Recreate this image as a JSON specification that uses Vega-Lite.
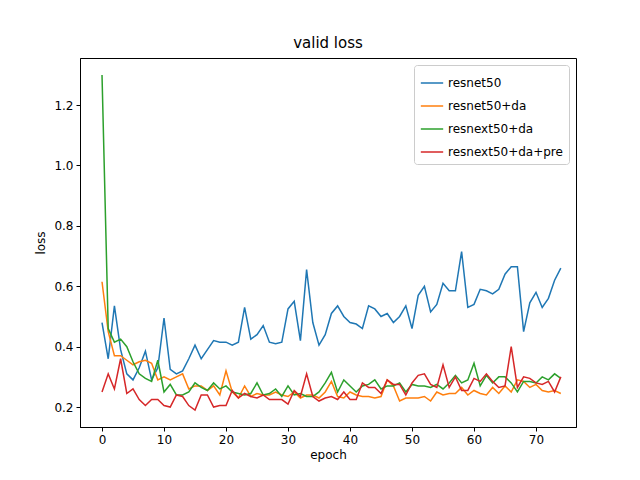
{
  "$schema": "https://vega.github.io/schema/vega-lite/v6.json",
  "width": 496,
  "height": 369,
  "autosize": {"type": "none"},
  "padding": {"left": 80, "top": 58, "right": 64, "bottom": 53},
  "background": "white",
  "title": {"text": "valid loss", "fontSize": 15, "font": "DejaVu Sans", "fontWeight": "normal", "offset": 7},
  "data": {
    "values": [
      {"epoch":0,"resnet50":0.48,"resnet50+da":0.615,"resnext50+da":1.3,"resnext50+da+pre":0.25},
      {"epoch":1,"resnet50":0.36,"resnet50+da":0.45,"resnext50+da":0.46,"resnext50+da+pre":0.31},
      {"epoch":2,"resnet50":0.535,"resnet50+da":0.37,"resnext50+da":0.415,"resnext50+da+pre":0.26},
      {"epoch":3,"resnet50":0.39,"resnet50+da":0.37,"resnext50+da":0.425,"resnext50+da+pre":0.36},
      {"epoch":4,"resnet50":0.31,"resnet50+da":0.355,"resnext50+da":0.4,"resnext50+da+pre":0.245},
      {"epoch":5,"resnet50":0.29,"resnet50+da":0.34,"resnext50+da":0.35,"resnext50+da+pre":0.26},
      {"epoch":6,"resnet50":0.33,"resnet50+da":0.35,"resnext50+da":0.31,"resnext50+da+pre":0.225},
      {"epoch":7,"resnet50":0.385,"resnet50+da":0.355,"resnext50+da":0.295,"resnext50+da+pre":0.205},
      {"epoch":8,"resnet50":0.29,"resnet50+da":0.345,"resnext50+da":0.285,"resnext50+da+pre":0.225},
      {"epoch":9,"resnet50":0.33,"resnet50+da":0.29,"resnext50+da":0.355,"resnext50+da+pre":0.225},
      {"epoch":10,"resnet50":0.495,"resnet50+da":0.3,"resnext50+da":0.25,"resnext50+da+pre":0.205},
      {"epoch":11,"resnet50":0.325,"resnet50+da":0.29,"resnext50+da":0.275,"resnext50+da+pre":0.2},
      {"epoch":12,"resnet50":0.31,"resnet50+da":0.3,"resnext50+da":0.24,"resnext50+da+pre":0.24},
      {"epoch":13,"resnet50":0.32,"resnet50+da":0.31,"resnext50+da":0.24,"resnext50+da+pre":0.235},
      {"epoch":14,"resnet50":0.36,"resnet50+da":0.26,"resnext50+da":0.25,"resnext50+da+pre":0.205},
      {"epoch":15,"resnet50":0.405,"resnet50+da":0.27,"resnext50+da":0.28,"resnext50+da+pre":0.19},
      {"epoch":16,"resnet50":0.36,"resnet50+da":0.27,"resnext50+da":0.265,"resnext50+da+pre":0.24},
      {"epoch":17,"resnet50":0.39,"resnet50+da":0.255,"resnext50+da":0.255,"resnext50+da+pre":0.24},
      {"epoch":18,"resnet50":0.42,"resnet50+da":0.27,"resnext50+da":0.28,"resnext50+da+pre":0.2},
      {"epoch":19,"resnet50":0.415,"resnet50+da":0.24,"resnext50+da":0.26,"resnext50+da+pre":0.205},
      {"epoch":20,"resnet50":0.415,"resnet50+da":0.32,"resnext50+da":0.27,"resnext50+da+pre":0.205},
      {"epoch":21,"resnet50":0.405,"resnet50+da":0.25,"resnext50+da":0.25,"resnext50+da+pre":0.255},
      {"epoch":22,"resnet50":0.415,"resnet50+da":0.23,"resnext50+da":0.245,"resnext50+da+pre":0.23},
      {"epoch":23,"resnet50":0.53,"resnet50+da":0.27,"resnext50+da":0.24,"resnext50+da+pre":0.245},
      {"epoch":24,"resnet50":0.425,"resnet50+da":0.235,"resnext50+da":0.245,"resnext50+da+pre":0.235},
      {"epoch":25,"resnet50":0.44,"resnet50+da":0.245,"resnext50+da":0.28,"resnext50+da+pre":0.23},
      {"epoch":26,"resnet50":0.47,"resnet50+da":0.24,"resnext50+da":0.24,"resnext50+da+pre":0.24},
      {"epoch":27,"resnet50":0.415,"resnet50+da":0.24,"resnext50+da":0.245,"resnext50+da+pre":0.225},
      {"epoch":28,"resnet50":0.41,"resnet50+da":0.25,"resnext50+da":0.26,"resnext50+da+pre":0.225},
      {"epoch":29,"resnet50":0.415,"resnet50+da":0.24,"resnext50+da":0.235,"resnext50+da+pre":0.225},
      {"epoch":30,"resnet50":0.525,"resnet50+da":0.235,"resnext50+da":0.27,"resnext50+da+pre":0.21},
      {"epoch":31,"resnet50":0.55,"resnet50+da":0.25,"resnext50+da":0.24,"resnext50+da+pre":0.255},
      {"epoch":32,"resnet50":0.42,"resnet50+da":0.23,"resnext50+da":0.245,"resnext50+da+pre":0.235},
      {"epoch":33,"resnet50":0.655,"resnet50+da":0.24,"resnext50+da":0.235,"resnext50+da+pre":0.31},
      {"epoch":34,"resnet50":0.48,"resnet50+da":0.24,"resnext50+da":0.235,"resnext50+da+pre":0.235},
      {"epoch":35,"resnet50":0.405,"resnet50+da":0.23,"resnext50+da":0.25,"resnext50+da+pre":0.22},
      {"epoch":36,"resnet50":0.44,"resnet50+da":0.25,"resnext50+da":0.28,"resnext50+da+pre":0.23},
      {"epoch":37,"resnet50":0.51,"resnet50+da":0.285,"resnext50+da":0.315,"resnext50+da+pre":0.235},
      {"epoch":38,"resnet50":0.535,"resnet50+da":0.235,"resnext50+da":0.25,"resnext50+da+pre":0.225},
      {"epoch":39,"resnet50":0.5,"resnet50+da":0.23,"resnext50+da":0.29,"resnext50+da+pre":0.25},
      {"epoch":40,"resnet50":0.48,"resnet50+da":0.25,"resnext50+da":0.27,"resnext50+da+pre":0.225},
      {"epoch":41,"resnet50":0.475,"resnet50+da":0.24,"resnext50+da":0.25,"resnext50+da+pre":0.225},
      {"epoch":42,"resnet50":0.46,"resnet50+da":0.235,"resnext50+da":0.27,"resnext50+da+pre":0.28},
      {"epoch":43,"resnet50":0.535,"resnet50+da":0.235,"resnext50+da":0.275,"resnext50+da+pre":0.265},
      {"epoch":44,"resnet50":0.525,"resnet50+da":0.23,"resnext50+da":0.29,"resnext50+da+pre":0.265},
      {"epoch":45,"resnet50":0.5,"resnet50+da":0.235,"resnext50+da":0.26,"resnext50+da+pre":0.245},
      {"epoch":46,"resnet50":0.51,"resnet50+da":0.29,"resnext50+da":0.27,"resnext50+da+pre":0.29},
      {"epoch":47,"resnet50":0.48,"resnet50+da":0.27,"resnext50+da":0.27,"resnext50+da+pre":0.275},
      {"epoch":48,"resnet50":0.5,"resnet50+da":0.22,"resnext50+da":0.28,"resnext50+da+pre":0.275},
      {"epoch":49,"resnet50":0.535,"resnet50+da":0.23,"resnext50+da":0.25,"resnext50+da+pre":0.24},
      {"epoch":50,"resnet50":0.46,"resnet50+da":0.23,"resnext50+da":0.275,"resnext50+da+pre":0.28},
      {"epoch":51,"resnet50":0.57,"resnet50+da":0.23,"resnext50+da":0.27,"resnext50+da+pre":0.305},
      {"epoch":52,"resnet50":0.6,"resnet50+da":0.235,"resnext50+da":0.27,"resnext50+da+pre":0.31},
      {"epoch":53,"resnet50":0.515,"resnet50+da":0.22,"resnext50+da":0.265,"resnext50+da+pre":0.275},
      {"epoch":54,"resnet50":0.54,"resnet50+da":0.25,"resnext50+da":0.275,"resnext50+da+pre":0.265},
      {"epoch":55,"resnet50":0.61,"resnet50+da":0.24,"resnext50+da":0.26,"resnext50+da+pre":0.34},
      {"epoch":56,"resnet50":0.585,"resnet50+da":0.245,"resnext50+da":0.28,"resnext50+da+pre":0.265},
      {"epoch":57,"resnet50":0.585,"resnet50+da":0.245,"resnext50+da":0.305,"resnext50+da+pre":0.3},
      {"epoch":58,"resnet50":0.715,"resnet50+da":0.265,"resnext50+da":0.28,"resnext50+da+pre":0.255},
      {"epoch":59,"resnet50":0.53,"resnet50+da":0.24,"resnext50+da":0.29,"resnext50+da+pre":0.255},
      {"epoch":60,"resnet50":0.54,"resnet50+da":0.255,"resnext50+da":0.345,"resnext50+da+pre":0.295},
      {"epoch":61,"resnet50":0.59,"resnet50+da":0.245,"resnext50+da":0.27,"resnext50+da+pre":0.285},
      {"epoch":62,"resnet50":0.585,"resnet50+da":0.24,"resnext50+da":0.305,"resnext50+da+pre":0.31},
      {"epoch":63,"resnet50":0.575,"resnet50+da":0.265,"resnext50+da":0.28,"resnext50+da+pre":0.285},
      {"epoch":64,"resnet50":0.59,"resnet50+da":0.245,"resnext50+da":0.3,"resnext50+da+pre":0.265},
      {"epoch":65,"resnet50":0.64,"resnet50+da":0.27,"resnext50+da":0.3,"resnext50+da+pre":0.27},
      {"epoch":66,"resnet50":0.665,"resnet50+da":0.25,"resnext50+da":0.28,"resnext50+da+pre":0.4},
      {"epoch":67,"resnet50":0.665,"resnet50+da":0.29,"resnext50+da":0.25,"resnext50+da+pre":0.265},
      {"epoch":68,"resnet50":0.45,"resnet50+da":0.285,"resnext50+da":0.285,"resnext50+da+pre":0.3},
      {"epoch":69,"resnet50":0.545,"resnet50+da":0.265,"resnext50+da":0.285,"resnext50+da+pre":0.295},
      {"epoch":70,"resnet50":0.58,"resnet50+da":0.275,"resnext50+da":0.28,"resnext50+da+pre":0.28},
      {"epoch":71,"resnet50":0.53,"resnet50+da":0.255,"resnext50+da":0.3,"resnext50+da+pre":0.275},
      {"epoch":72,"resnet50":0.56,"resnet50+da":0.25,"resnext50+da":0.29,"resnext50+da+pre":0.285},
      {"epoch":73,"resnet50":0.62,"resnet50+da":0.255,"resnext50+da":0.31,"resnext50+da+pre":0.25},
      {"epoch":74,"resnet50":0.66,"resnet50+da":0.245,"resnext50+da":0.295,"resnext50+da+pre":0.3}
    ]
  },
  "transform": [
    {"fold": ["resnet50", "resnet50+da", "resnext50+da", "resnext50+da+pre"], "as": ["model", "loss"]}
  ],
  "mark": {"type": "line", "strokeWidth": 1.5, "clip": true},
  "encoding": {
    "x": {
      "field": "epoch", "type": "quantitative",
      "scale": {"domain": [-3.55, 76.45], "nice": false, "zero": false},
      "axis": {"values": [0, 10, 20, 30, 40, 50, 60, 70], "title": "epoch", "grid": false, "domainColor": "black", "tickColor": "black", "labelColor": "black", "titleColor": "black", "labelFontSize": 12, "titleFontSize": 12, "titleFontWeight": "normal", "labelFont": "DejaVu Sans", "titleFont": "DejaVu Sans", "tickSize": 4, "labelPadding": 3, "titlePadding": 4}
    },
    "y": {
      "field": "loss", "type": "quantitative",
      "scale": {"domain": [0.134, 1.356], "nice": false, "zero": false},
      "axis": {"values": [0.2, 0.4, 0.6, 0.8, 1.0, 1.2], "format": ".1f", "title": "loss", "grid": false, "domainColor": "black", "tickColor": "black", "labelColor": "black", "titleColor": "black", "labelFontSize": 12, "titleFontSize": 12, "titleFontWeight": "normal", "labelFont": "DejaVu Sans", "titleFont": "DejaVu Sans", "tickSize": 4, "labelPadding": 3, "titlePadding": 6}
    },
    "color": {
      "field": "model", "type": "nominal", "sort": ["resnet50", "resnet50+da", "resnext50+da", "resnext50+da+pre"],
      "scale": {"domain": ["resnet50", "resnet50+da", "resnext50+da", "resnext50+da+pre"], "range": ["#1f77b4", "#ff7f0e", "#2ca02c", "#d62728"]},
      "legend": {"title": null, "orient": "top-right", "offset": 7, "symbolType": "stroke", "symbolSize": 500, "symbolStrokeWidth": 1.5, "labelFontSize": 12, "labelFont": "DejaVu Sans", "labelColor": "black", "fillColor": "white", "strokeColor": "#cccccc", "padding": 6, "cornerRadius": 3, "rowPadding": 5}
    }
  },
  "config": {"view": {"stroke": "black"}}
}
